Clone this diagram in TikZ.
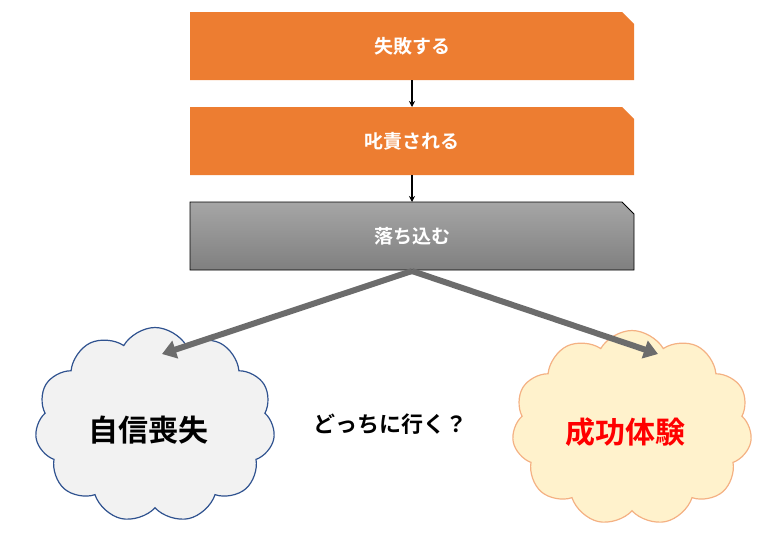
\documentclass[tikz,border=0pt]{standalone}
\usepackage{fontspec}
\setmainfont{Noto Sans CJK JP}[BoldFont={Noto Sans CJK JP Bold}]
\usetikzlibrary{shapes.symbols,arrows.meta}
\definecolor{org}{HTML}{ED7D31}
\begin{document}
\begin{tikzpicture}[x=1pt,y=-1pt,
  snip/.style={draw=none},
  lbl/.style={text=white,font=\bfseries\fontsize{19}{22}\selectfont},
  small/.style={-{Stealth[length=6pt,width=6pt]},line width=1.3pt},
  big/.style={draw=gray!85!black,line width=6pt,-{Triangle[length=14pt,width=18pt]}},
  cl/.style={cloud,cloud puffs=11,cloud puff arc=120,aspect=1.2,minimum width=240pt,minimum height=195pt,line width=1.2pt}]
\useasboundingbox (0,0) rectangle (782,539);
\fill[org] (190,12) -- (622,12) -- (634,24) -- (634,80) -- (190,80) -- cycle;
\node[lbl] (a) at (412,46) {失敗する};
\fill[org] (190,107) -- (622,107) -- (634,119) -- (634,175) -- (190,175) -- cycle;
\node[lbl] (b) at (412,141) {叱責される};
\shade[top color=gray!70,bottom color=gray!100!black!100,draw=black,line width=0.8pt] (190,202) -- (622,202) -- (634,214) -- (634,270) -- (190,270) -- cycle;
\node[lbl] (c) at (412,236) {落ち込む};
\coordinate (a1) at (412,80); \coordinate (b0) at (412,107);
\coordinate (b1) at (412,175); \coordinate (c0) at (412,202);
\draw[small] (a1) -- (b0);
\draw[small] (b1) -- (c0);
\node[cl,draw={rgb,255:red,47;green,82;blue,143},fill=gray!10] (l) at (155,425) {};
\node[cl,draw={rgb,255:red,244;green,177;blue,131},fill={rgb,255:red,255;green,242;blue,204}] (r) at (632,428) {};
\node[font=\bfseries\fontsize{30}{34}\selectfont] at (148,430) {自信喪失};
\node[font=\bfseries\fontsize{30}{34}\selectfont,text=red] at (625,432) {成功体験};
\node[font=\bfseries\fontsize{22}{26}\selectfont] (q) at (390,424) {どっちに行く？};
\coordinate (c1) at (412,271);
\coordinate (lt) at (162,354); \coordinate (rt) at (658,354);
\draw[big] (c1) -- (lt);
\draw[big] (c1) -- (rt);
\end{tikzpicture}
\end{document}
